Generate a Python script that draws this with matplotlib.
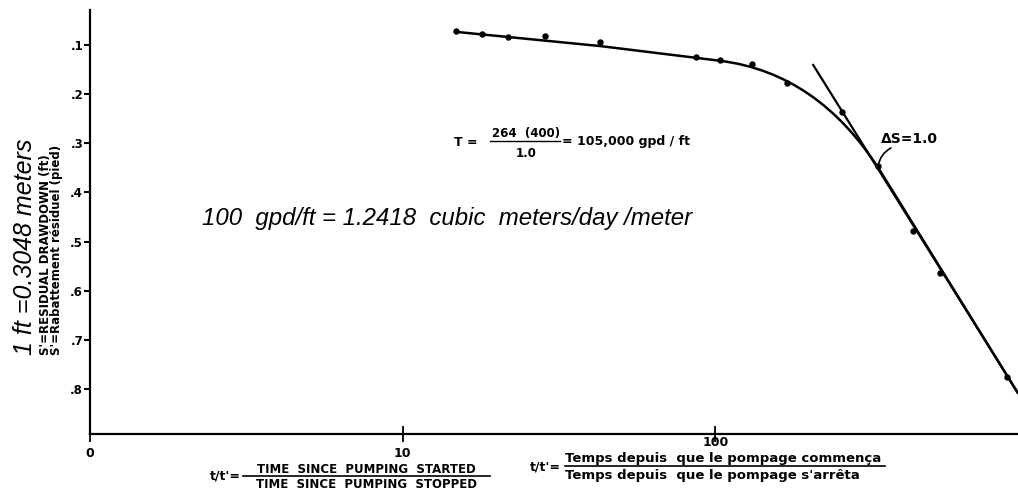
import matplotlib
matplotlib.use("Agg")
import matplotlib.pyplot as plt
import matplotlib.transforms as mtransforms
from matplotlib.path import Path
from matplotlib.patches import PathPatch
from matplotlib.lines import Line2D
from matplotlib.ticker import NullLocator

# Recovery test: residual drawdown s' against t/t'
ratio_t = [14.8, 17.9, 21.8, 28.6, 42.9, 87.0, 103.8, 131.3, 169.8, 254.5,
           331.8, 429.0, 523.0, 857.0]
drawdown = [0.071, 0.077, 0.0835, 0.082, 0.094, 0.124, 0.130, 0.138, 0.177,
            0.236, 0.346, 0.479, 0.564, 0.776]

# Hand-fitted curve: early straight run, rounded knee, late straight run
fit_t = [14.8, 42.9, 103.8, 213.4, 336.6, 929.0]
fit_s = [0.073, 0.102, 0.132, 0.157, 0.356, 0.809]

# Straight line through the late data (delta s over one log cycle)
slope_t = [205.6, 929.0]
slope_s = [0.1405, 0.809]

x_ticks = [1, 10, 100]
x_tick_labels = ["0", "10", "100"]
y_ticks = [0.1, 0.2, 0.3, 0.4, 0.5, 0.6, 0.7, 0.8]
y_tick_labels = [".1", ".2", ".3", ".4", ".5", ".6", ".7", ".8"]

W, H = 1018, 498
fig = plt.figure(figsize=(W / 100, H / 100), dpi=100)
fig.patch.set_facecolor("white")


def px(x, y):
    """Pixel position (from top-left) to figure fraction."""
    return x / W, 1 - y / H


ax = fig.add_axes([90 / W, (H - 434) / H, (W - 90) / W, (434 - 10) / H])
ax.set_xscale("log")

# fitted curve
codes = [Path.MOVETO, Path.LINETO, Path.LINETO, Path.CURVE3, Path.CURVE3, Path.LINETO]
curve = Path(list(zip(fit_t, fit_s)), codes)
ax.add_patch(PathPatch(curve, fill=False, lw=1.8, ec="black", joinstyle="round"))

# slope line
ax.plot(slope_t, slope_s, color="black", lw=1.6)

# measured points
ax.plot(ratio_t, drawdown, "o", color="black", ms=3.6)

ax.set_xlim(1, 929)
ax.set_ylim(0.892, 0.0285)

for side in ("top", "right"):
    ax.spines[side].set_visible(False)
for side in ("left", "bottom"):
    ax.spines[side].set_linewidth(1.6)

ax.xaxis.set_minor_locator(NullLocator())
ax.set_xticks(x_ticks, x_tick_labels)
ax.set_yticks(y_ticks, y_tick_labels)
ax.tick_params(axis="x", direction="inout", length=12, width=1.3, pad=3,
               labelsize=9)
ax.tick_params(axis="y", direction="out", length=4, width=1.5, pad=1,
               labelsize=8.5)
for lab in ax.get_xticklabels() + ax.get_yticklabels():
    lab.set_fontweight("bold")

# the "100" label sits a little higher, above the French caption
tick100 = ax.xaxis.get_major_ticks()[2]
tick100.label1.set_transform(
    tick100.label1.get_transform()
    + mtransforms.ScaledTranslation(0, 11 / 100, fig.dpi_scale_trans))

bold = dict(fontweight="bold", family="DejaVu Sans", color="black")
narrow_it = dict(style="italic", family=["Liberation Sans Narrow", "Liberation Sans", "DejaVu Sans"],
                 color="black")

# left side labels
fig.text(*px(25, 355), "1 ft =0.3048 meters", rotation=90, ha="center",
         va="bottom", fontsize=18, **narrow_it)
fig.text(*px(46, 355), "S'=RESIDUAL DRAWDOWN (ft)", rotation=90, ha="center",
         va="bottom", fontsize=8.5, **bold)
fig.text(*px(57, 355), "S'=Rabattement résiduel (pied)", rotation=90,
         ha="center", va="bottom", fontsize=8.5, **bold)

# unit conversion note
fig.text(*px(202, 218), "100  gpd/ft = 1.2418  cubic  meters/day /meter",
         ha="left", va="center", fontsize=17.3, **narrow_it)

# transmissivity formula
fig.text(*px(478, 142), "T =", ha="right", va="center", fontsize=9, **bold)
fig.text(*px(526, 133), "264  (400)", ha="center", va="center", fontsize=8.5, **bold)
fig.add_artist(Line2D([490 / W, 560 / W], [1 - 141 / H, 1 - 141 / H],
                      transform=fig.transFigure, color="black", lw=1.0))
fig.text(*px(526, 153), "1.0", ha="center", va="center", fontsize=8.5, **bold)
fig.text(*px(562, 142), "= 105,000 gpd / ft", ha="left", va="center",
         fontsize=9, **bold)

# delta s annotation
fig.text(*px(881, 139), "ΔS=1.0", ha="left", va="center", fontsize=10, **bold)
ax.annotate("", xy=(ratio_t[10], drawdown[10]), xycoords="data",
            xytext=(891, H - 148), textcoords="figure pixels",
            arrowprops=dict(arrowstyle="-", color="black", lw=1.2,
                            connectionstyle="arc3,rad=0.25",
                            shrinkA=0, shrinkB=0))

# x-axis definition (English)
fig.text(*px(241, 476), "t/t'=", ha="right", va="center", fontsize=9, **bold)
fig.text(*px(366, 469), "TIME  SINCE  PUMPING  STARTED", ha="center",
         va="center", fontsize=8.5, **bold)
fig.add_artist(Line2D([243 / W, 490 / W], [1 - 476 / H, 1 - 476 / H],
                      transform=fig.transFigure, color="black", lw=1.2))
fig.text(*px(366, 484), "TIME  SINCE  PUMPING  STOPPED", ha="center",
         va="center", fontsize=8.5, **bold)

# x-axis definition (French)
fig.text(*px(561, 467), "t/t'=", ha="right", va="center", fontsize=9, **bold)
fig.text(*px(565, 458), "Temps depuis  que le pompage commença", ha="left",
         va="center", fontsize=9.5, **bold)
fig.add_artist(Line2D([565 / W, 885 / W], [1 - 466 / H, 1 - 466 / H],
                      transform=fig.transFigure, color="black", lw=1.2))
fig.text(*px(565, 475), "Temps depuis  que le pompage s'arrêta", ha="left",
         va="center", fontsize=9.5, **bold)

fig.savefig("out.png", dpi=100, facecolor="white")
